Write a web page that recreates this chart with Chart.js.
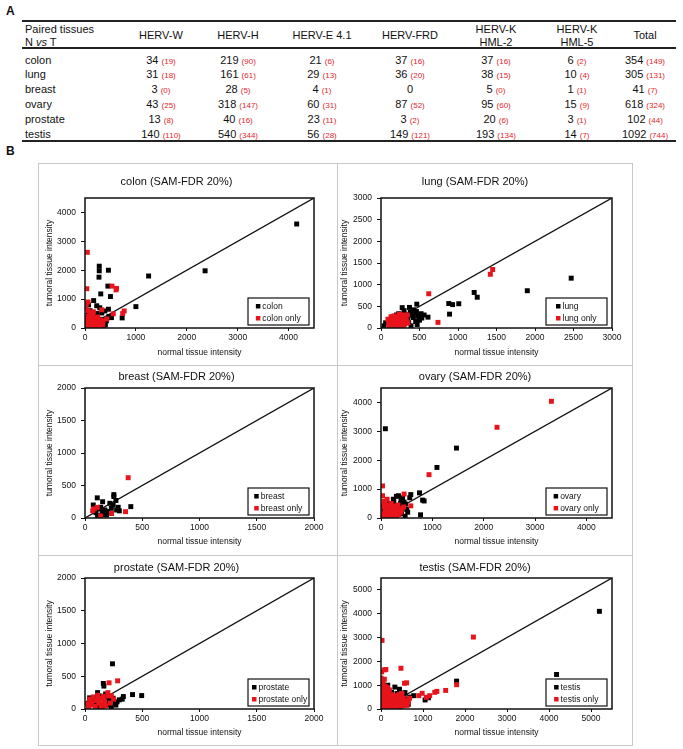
<!DOCTYPE html>
<html>
<head>
<meta charset="utf-8">
<script src="https://cdn.jsdelivr.net/npm/chart.js@4.4.1/dist/chart.umd.min.js"></script>
<style>
  body { margin: 0; background: #fff; font-family: "Liberation Sans", Arial, sans-serif; color: #111; }
  #page { position: relative; width: 683px; height: 749px; overflow: hidden; }
  .lbl { position: absolute; font-weight: bold; font-size: 12px; }
  .hl { position: absolute; left: 22px; width: 654px; height: 1.5px; background: #222; }
  .cell { position: absolute; width: 90px; text-align: center; font-size: 11px; line-height: 13px; white-space: nowrap; }
  .cell span { color: #e3262b; font-size: 8px; }
  .tis { position: absolute; left: 25px; font-size: 11px; line-height: 13px; }
  #boxB { position: absolute; left: 38px; top: 163px; width: 593px; height: 581px; border: 1px solid #c8c8c8; }
  .div { position: absolute; background: #c8c8c8; }
  canvas { position: absolute; }
</style>
</head>
<body>
<div id="page">
  <div class="lbl" style="left:6px;top:4px">A</div>
  <div class="lbl" style="left:6px;top:144px">B</div>
  <div class="hl" style="top:20px"></div>
  <div class="hl" style="top:47px"></div>
  <div class="hl" style="top:140px"></div>
  <div id="table"></div>

  <div id="boxB"></div>
  <div class="div" style="left:337px;top:164px;width:1px;height:581px"></div>
  <div class="div" style="left:39px;top:365px;width:593px;height:1px"></div>
  <div class="div" style="left:39px;top:555px;width:593px;height:1px"></div>

  <canvas id="colon" width="298" height="200" style="left:39px;top:164px"></canvas>
  <canvas id="lung" width="293" height="200" style="left:338px;top:164px"></canvas>
  <canvas id="breast" width="298" height="188" style="left:39px;top:366px"></canvas>
  <canvas id="ovary" width="293" height="188" style="left:338px;top:366px"></canvas>
  <canvas id="prostate" width="298" height="188" style="left:39px;top:556px"></canvas>
  <canvas id="testis" width="293" height="188" style="left:338px;top:556px"></canvas>
</div>
<script>
// ---- table A ----
const tissues = ['colon', 'lung', 'breast', 'ovary', 'prostate', 'testis'];
const hervCols = ['HERV-W', 'HERV-H', 'HERV-E 4.1', 'HERV-FRD', 'HERV-K\nHML-2', 'HERV-K\nHML-5', 'Total'];
const colonN = [34, 219, 21, 37, 37, 6, 354];
const colonOnlyN = [19, 90, 6, 16, 16, 2, 149];
const lungN = [31, 161, 29, 36, 38, 10, 305];
const lungOnlyN = [18, 61, 13, 20, 15, 4, 131];
const breastN = [3, 28, 4, 0, 5, 1, 41];
const breastOnlyN = [0, 5, 1, null, 0, 1, 7];
const ovaryN = [43, 318, 60, 87, 95, 15, 618];
const ovaryOnlyN = [25, 147, 31, 52, 60, 9, 324];
const prostateN = [13, 40, 23, 3, 20, 3, 102];
const prostateOnlyN = [8, 16, 11, 2, 6, 1, 44];
const testisN = [140, 540, 56, 149, 193, 14, 1092];
const testisOnlyN = [110, 344, 28, 121, 134, 7, 744];

const tableRows = [
  [colonN, colonOnlyN], [lungN, lungOnlyN], [breastN, breastOnlyN],
  [ovaryN, ovaryOnlyN], [prostateN, prostateOnlyN], [testisN, testisOnlyN]
];
const colX = [161, 238, 322, 410, 496, 577, 645];
const rowY = [60, 74.8, 89.6, 104.4, 119.2, 134];

let html = '<div class="tis" style="top:23px">Paired tissues<br>N <i>vs</i> T</div>';
hervCols.forEach((h, c) => {
  const lines = h.split('\n');
  const top = lines.length > 1 ? 23 : 29;
  html += `<div class="cell" style="left:${colX[c] - 45}px;top:${top}px">${lines.join('<br>')}</div>`;
});
tissues.forEach((t, r) => {
  html += `<div class="tis" style="top:${rowY[r] - 6.5}px">${t}</div>`;
  const [n, only] = tableRows[r];
  n.forEach((v, c) => {
    const extra = only[c] === null ? '' : ` <span>(${only[c]})</span>`;
    html += `<div class="cell" style="left:${colX[c] - 45}px;top:${rowY[r] - 6.5}px">${v}${extra}</div>`;
  });
});
document.getElementById('table').innerHTML = html;

// ---- scatter data B: [normal, tumoral] ----
const colonAll = [[4160,3600],[2360,1980],[1250,1800],[1000,740],[730,350],[280,2140],[280,1980],[460,2000],[275,1760],[450,1450],[500,1090],[310,1180],[460,650],[170,950],[70,800],[230,770],[290,700],[390,590],[520,360],[470,400],[330,300],[380,200],[300,80],[400,100],[250,250],[200,420],[150,350],[100,600],[60,450],[120,200],[180,120],[350,40],[240,500],[330,520],[420,250],[210,300],[80,250],[280,160]];
const colonOnly = [[45,2620],[35,1360],[530,1450],[620,1370],[610,1320],[25,850],[60,900],[20,700],[770,590],[740,500],[555,490],[330,630],[430,310],[165,560],[60,600],[100,550],[40,400],[90,420],[150,400],[200,350],[250,380],[300,280],[20,250],[60,300],[100,250],[140,300],[180,250],[220,220],[260,200],[320,180],[350,250],[30,120],[70,150],[110,120],[150,160],[190,130],[230,100],[270,120],[40,40],[80,60],[120,30],[160,60],[200,40],[240,50],[300,60],[350,120],[100,350],[210,150],[130,80]];

const lungAll = [[2470,1150],[1900,860],[1250,710],[1210,820],[1010,560],[930,540],[880,565],[890,320],[610,250],[465,550],[275,470],[370,475],[520,330],[530,230],[480,270],[450,150],[400,300],[380,360],[420,240],[350,200],[300,400],[330,130],[200,300],[150,250],[100,200],[60,120],[40,50],[140,60],[250,80],[500,180],[440,340],[360,120],[280,240],[420,420],[560,300],[470,80],[390,50],[300,320],[460,380],[230,330]];
const lungOnly = [[1450,1350],[1420,1240],[620,790],[740,130],[100,100],[120,180],[150,220],[180,150],[200,250],[230,280],[250,300],[270,200],[300,150],[320,250],[350,120],[260,100],[220,60],[150,50],[90,200],[130,130],[210,180],[280,300],[240,320],[190,90],[330,180],[300,60],[110,40],[170,280],[250,150],[290,240],[340,300],[200,20],[160,180],[230,230],[130,260],[270,50],[310,100]];

const breastAll = [[400,175],[107,310],[252,360],[252,330],[72,200],[154,250],[137,165],[217,226],[246,200],[290,165],[276,123],[124,35],[188,46],[96,82],[232,72],[174,123],[270,270],[200,100],[150,90],[120,140],[230,150],[300,110],[160,50],[110,20]];
const breastOnly = [[377,620],[354,97],[232,72],[107,164],[67,112],[137,31],[80,140]];

const ovaryAll = [[85,3090],[1470,2420],[1090,1750],[750,870],[810,620],[840,590],[770,110],[580,810],[340,770],[240,650],[470,60],[500,300],[420,700],[450,550],[390,620],[300,750],[200,400],[350,350],[430,420],[280,250],[160,500],[100,380],[60,250],[400,150],[300,80],[220,120],[520,200],[380,500],[250,560],[130,180],[330,300],[480,480],[560,700]];
const ovaryOnly = [[3320,4040],[2260,3140],[935,1500],[30,1110],[30,770],[450,830],[580,420],[60,580],[20,400],[80,300],[120,450],[170,350],[220,300],[260,420],[300,350],[350,250],[400,320],[440,380],[30,150],[70,120],[110,200],[150,150],[190,220],[230,180],[270,140],[310,200],[350,120],[390,200],[20,50],[60,30],[100,80],[140,40],[180,90],[220,50],[260,60],[300,30],[120,650],[60,480],[200,500],[330,450]];

const prostateAll = [[240,690],[495,205],[415,220],[335,190],[325,150],[160,390],[165,350],[245,165],[260,90],[200,60],[80,180],[130,200],[60,120],[30,90],[100,70],[150,40],[210,130],[280,110],[300,140],[180,230],[110,250],[40,170],[230,30],[120,10],[190,160],[90,130],[270,60]];
const prostateOnly = [[285,430],[210,400],[100,130],[150,80],[50,60],[200,200],[70,180],[130,160],[170,120],[220,90],[90,40],[140,20],[30,30],[110,210],[180,50],[60,110],[250,150],[40,150],[200,250],[120,90],[160,190],[20,80],[230,200]];

const testisAll = [[5200,4100],[4180,1450],[1800,1170],[1050,380],[1130,470],[780,560],[330,920],[440,830],[570,690],[160,1000],[250,700],[400,500],[500,300],[600,400],[650,200],[350,300],[200,450],[120,600],[300,150],[450,100],[550,600],[680,500],[100,300],[250,250],[380,650],[470,450],[80,150],[520,150],[200,100],[300,50]];
const testisOnly = [[25,2880],[2200,3020],[475,1710],[15,1560],[80,1640],[115,1660],[560,1080],[610,1100],[1800,1020],[1540,780],[1330,740],[1280,700],[980,660],[1160,560],[1080,490],[900,560],[0,1000],[50,1100],[100,950],[60,850],[150,900],[20,750],[100,700],[200,800],[50,600],[150,650],[250,600],[30,450],[120,480],[220,500],[320,550],[420,600],[500,650],[40,300],[130,320],[230,350],[330,400],[430,420],[530,450],[640,380],[60,150],[150,180],[250,200],[350,250],[450,280],[550,300],[650,280],[30,50],[120,60],[220,80],[320,100],[420,120],[520,130],[620,150],[80,1250],[0,1300],[680,450]];

// axis range and tick labels per panel (same on both axes)
const axisMax = { colon: 4500, lung: 3000, breast: 2000, ovary: 4500, prostate: 2000, testis: 5500 };
const colonTicks = [0, 1000, 2000, 3000, 4000];
const lungTicks = [0, 500, 1000, 1500, 2000, 2500, 3000];
const breastTicks = [0, 500, 1000, 1500, 2000];
const ovaryTicks = [0, 1000, 2000, 3000, 4000];
const prostateTicks = [0, 500, 1000, 1500, 2000];
const testisTicks = [0, 1000, 2000, 3000, 4000, 5000];

// ---- layout helpers ----
const FONT = '"Liberation Sans", Arial, sans-serif';
const rowGeo = [
  { tTop: 11.4, tBot: 9.4, xh: 36, xPad: 5.9 },
  { tTop: 4.4, tBot: 4.4, xh: 36, xPad: 6.9 },
  { tTop: 5.4, tBot: 3.4, xh: 35, xPad: 5.9 }
];
const colGeo = [
  { yw: 46, right: 23, yPad: 5.9 },
  { yw: 43, right: 19, yPad: 1.9 }
];

const pts = a => a.map(([x, y]) => ({ x, y }));

const framePlugin = {
  id: 'frame',
  afterDraw(chart) {
    const { ctx, chartArea: a } = chart;
    ctx.save();
    ctx.strokeStyle = '#111';
    ctx.lineWidth = 1.5;
    ctx.strokeRect(a.left, a.top, a.right - a.left, a.bottom - a.top);

    // legend box in the lower right corner
    const items = chart.data.datasets.filter(d => d.label);
    ctx.font = '8.5px ' + FONT;
    const tw = Math.max(...items.map(d => ctx.measureText(d.label).width));
    const w = 61, h = 27;
    const x = a.right - 5 - w, y = a.bottom - 3 - h;
    ctx.fillStyle = '#fff';
    ctx.fillRect(x, y, w, h);
    ctx.lineWidth = 1.2;
    ctx.strokeRect(x, y, w, h);
    const sx = x + Math.max(4, (w - (7 + tw)) / 2);
    ctx.textBaseline = 'middle';
    items.forEach((d, i) => {
      const cy = y + 8 + i * 12;
      ctx.fillStyle = d.backgroundColor;
      ctx.fillRect(sx, cy - 2, 4.5, 4.5);
      ctx.fillStyle = '#111';
      ctx.fillText(d.label, sx + 6.5, cy + 0.5);
    });
    ctx.restore();
  }
};

function panel(name, all, only, tickVals, row, col) {
  const g = rowGeo[row], c = colGeo[col];
  const max = axisMax[name];
  const axis = (title, isX) => ({
    type: 'linear',
    min: 0,
    max: max,
    bounds: 'data',
    afterBuildTicks(s) { s.ticks = tickVals.map(v => ({ value: v })); },
    ticks: { callback: v => String(v), color: '#111', font: { size: 8.5, family: FONT }, padding: isX ? 2 : 5, maxRotation: 0, autoSkip: false },
    grid: { display: true, drawOnChartArea: false, drawTicks: true, tickLength: isX ? 3 : 4, color: '#111' },
    border: { display: false },
    title: {
      display: true, text: title, color: '#111', font: { size: 8.5, family: FONT },
      padding: isX ? { top: 0, bottom: g.xPad } : { top: c.yPad, bottom: 0 }
    },
    afterFit(s) { if (isX) s.height = g.xh; else s.width = c.yw; }
  });
  new Chart(document.getElementById(name), {
    type: 'scatter',
    data: {
      datasets: [
        { label: name, data: pts(all), backgroundColor: '#000', pointStyle: 'rect', pointRadius: 3.5, borderWidth: 0, order: 2 },
        { label: name + ' only', data: pts(only), backgroundColor: '#e8141b', pointStyle: 'rect', pointRadius: 3.5, borderWidth: 0, order: 1 },
        { label: '', data: [{ x: 0, y: 0 }, { x: max, y: max }], showLine: true, borderColor: '#111', borderWidth: 1.3, pointRadius: 0, order: 3 }
      ]
    },
    options: {
      responsive: false,
      animation: false,
      events: [],
      layout: { padding: { left: 0, right: c.right, top: 0, bottom: 0 } },
      plugins: {
        legend: { display: false },
        tooltip: { enabled: false },
        title: {
          display: true, text: name + ' (SAM-FDR 20%)', color: '#111',
          font: { size: 11, weight: 'normal', family: FONT },
          padding: { top: g.tTop, bottom: g.tBot }
        }
      },
      scales: {
        x: axis('normal tissue intensity', true),
        y: axis('tumoral tissue intensity', false)
      }
    },
    plugins: [framePlugin]
  });
}

panel('colon', colonAll, colonOnly, colonTicks, 0, 0);
panel('lung', lungAll, lungOnly, lungTicks, 0, 1);
panel('breast', breastAll, breastOnly, breastTicks, 1, 0);
panel('ovary', ovaryAll, ovaryOnly, ovaryTicks, 1, 1);
panel('prostate', prostateAll, prostateOnly, prostateTicks, 2, 0);
panel('testis', testisAll, testisOnly, testisTicks, 2, 1);
</script>
</body>
</html>
